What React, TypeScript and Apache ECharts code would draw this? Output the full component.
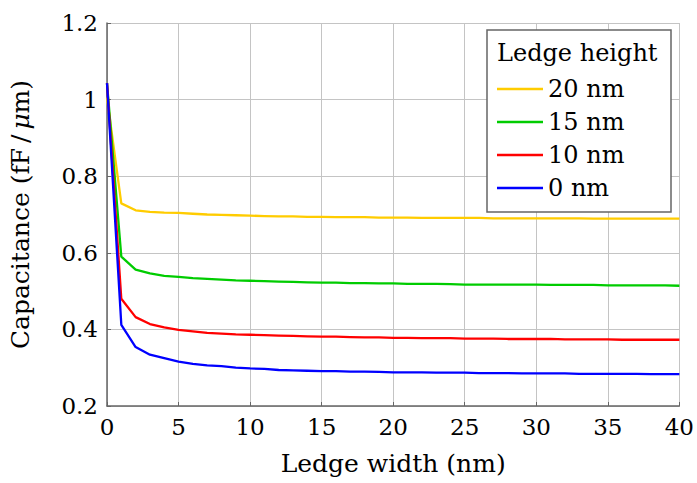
import React, { useEffect, useRef } from "react";
import * as echarts from "echarts";

const widths = [0,1,2,3,4,5,6,7,8,9,10,11,12,13,14,15,16,17,18,19,20,21,22,23,24,25,26,27,28,29,30,31,32,33,34,35,36,37,38,39,40];

const h20 = [1.005,0.729,0.711,0.707,0.705,0.704,0.702,0.700,0.699,0.698,0.697,0.696,0.695,0.695,0.694,0.694,0.693,0.693,0.693,0.692,0.692,0.692,0.691,0.691,0.691,0.691,0.691,0.690,0.690,0.690,0.690,0.690,0.690,0.690,0.689,0.689,0.689,0.689,0.689,0.689,0.689];
const h15 = [1.043,0.590,0.556,0.546,0.540,0.537,0.534,0.532,0.530,0.528,0.527,0.526,0.525,0.524,0.523,0.522,0.522,0.521,0.521,0.520,0.520,0.519,0.519,0.519,0.518,0.517,0.517,0.517,0.517,0.517,0.517,0.516,0.516,0.516,0.516,0.515,0.515,0.515,0.515,0.515,0.514];
const h10 = [1.043,0.480,0.432,0.414,0.405,0.399,0.395,0.391,0.389,0.387,0.386,0.385,0.384,0.383,0.382,0.381,0.381,0.380,0.379,0.379,0.378,0.378,0.377,0.377,0.377,0.376,0.376,0.376,0.375,0.375,0.375,0.375,0.374,0.374,0.374,0.374,0.373,0.373,0.373,0.373,0.373];
const h0 = [1.043,0.412,0.354,0.334,0.325,0.316,0.310,0.306,0.304,0.300,0.298,0.297,0.294,0.293,0.292,0.291,0.291,0.290,0.290,0.289,0.288,0.288,0.288,0.287,0.287,0.287,0.286,0.286,0.286,0.285,0.285,0.285,0.285,0.284,0.284,0.284,0.284,0.284,0.283,0.283,0.283];

const seriesNames = ["20 nm", "15 nm", "10 nm", "0 nm"];
const seriesColors = ["#ffcc00", "#00cc00", "#ff0000", "#0000ff"];
const seriesValues = [h20, h15, h10, h0];

const FONT = "DejaVu Serif";

export default function App() {
  const ref = useRef<HTMLDivElement>(null);
  useEffect(() => {
    if (!ref.current) return;
    const chart = echarts.init(ref.current, null, { renderer: "svg" });
    chart.setOption({
      animation: false,
      backgroundColor: "#ffffff",
      textStyle: { fontFamily: FONT, color: "#000" },
      grid: { left: 107, right: 14, top: 23, bottom: 77, containLabel: false },
      xAxis: {
        type: "value",
        min: 0,
        max: 40,
        interval: 5,
        name: "Ledge width (nm)",
        nameLocation: "middle",
        nameGap: 45,
        nameTextStyle: { fontFamily: FONT, fontSize: 25, color: "#000" },
        axisLine: { show: true, onZero: false, lineStyle: { color: "#666", width: 1.5 } },
        axisTick: { show: true, inside: true, length: 4, lineStyle: { color: "#666", width: 1 } },
        axisLabel: { fontFamily: FONT, fontSize: 23, color: "#000", margin: 9 },
        splitLine: { show: true, lineStyle: { color: "#c4c4c4", width: 1 } },
      },
      yAxis: {
        type: "value",
        min: 0.2,
        max: 1.2,
        interval: 0.2,
        name: "Capacitance (fF\u2009/\u2009{i|\u03bc}m)",
        nameLocation: "middle",
        nameRotate: 90,
        nameGap: 74,
        nameTextStyle: {
          fontFamily: FONT,
          fontSize: 25,
          color: "#000",
          rich: { i: { fontFamily: FONT, fontSize: 25, fontStyle: "italic", color: "#000" } },
        },
        axisLine: { show: true, onZero: false, lineStyle: { color: "#666", width: 1.5 } },
        axisTick: { show: true, inside: true, length: 4, lineStyle: { color: "#666", width: 1 } },
        axisLabel: {
          fontFamily: FONT,
          fontSize: 23,
          color: "#000",
          margin: 9,
          formatter: (v: number) => String(parseFloat(v.toFixed(1))),
        },
        splitLine: { show: true, lineStyle: { color: "#c4c4c4", width: 1 } },
      },
      legend: {
        orient: "vertical",
        left: 497,
        top: 77,
        padding: 0,
        icon: "rect",
        itemWidth: 46,
        itemHeight: 2.5,
        itemGap: 9,
        z: 10,
        data: seriesNames,
        textStyle: { fontFamily: FONT, fontSize: 24, color: "#000" },
      },
      graphic: [
        {
          type: "rect",
          shape: { x: 487, y: 30, width: 184, height: 182 },
          style: { fill: "#ffffff", stroke: "#666", lineWidth: 1.5 },
          z: 1,
        },
        {
          type: "text",
          x: 497,
          y: 53,
          style: {
            text: "Ledge height",
            fontFamily: FONT,
            fontSize: 24,
            fill: "#000",
            verticalAlign: "middle",
          },
          z: 11,
        },
      ],
      series: seriesNames.map((name, i) => ({
        name,
        type: "line",
        data: widths.map((w, j) => [w, seriesValues[i][j]]),
        symbol: "none",
        showSymbol: false,
        lineStyle: { color: seriesColors[i], width: 2.3 },
        itemStyle: { color: seriesColors[i] },
        z: 2 + i,
      })),
    });
    return () => chart.dispose();
  }, []);
  return <div ref={ref} style={{ width: 697, height: 483, position: "absolute", left: 0, top: 0 }} />;
}
